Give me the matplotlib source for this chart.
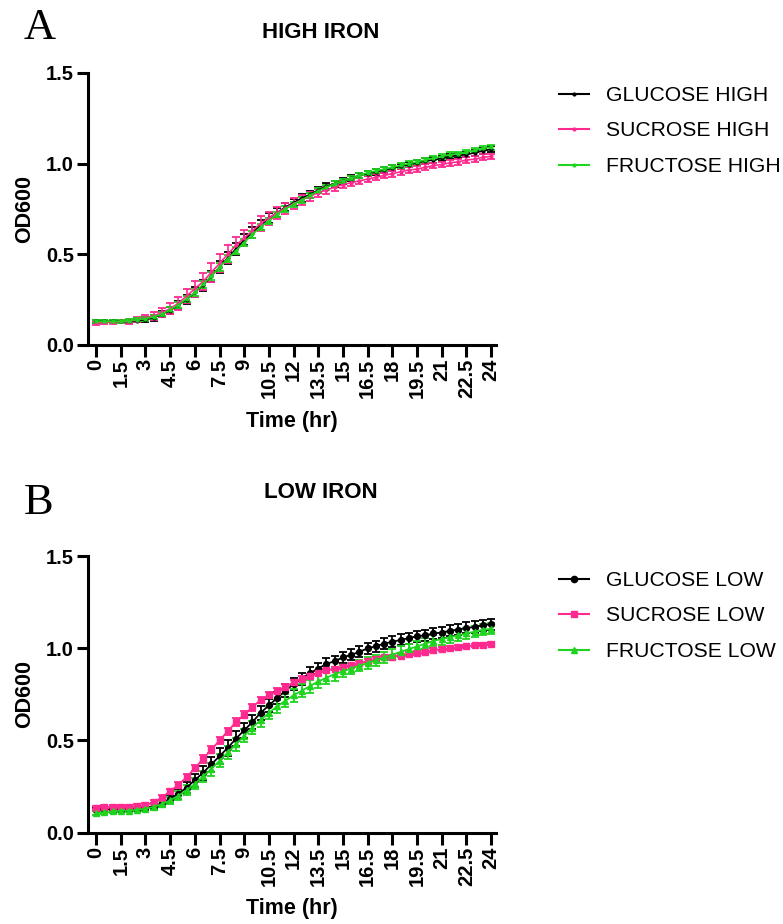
import numpy as np
import matplotlib
matplotlib.use("Agg")
import matplotlib.pyplot as plt
from matplotlib.lines import Line2D

plt.rcParams['font.family'] = ['Liberation Sans', 'DejaVu Sans']

time_hr = [i * 0.5 for i in range(49)]
xtick_vals = [0, 1.5, 3, 4.5, 6, 7.5, 9, 10.5, 12, 13.5, 15, 16.5, 18, 19.5, 21, 22.5, 24]
xtick_labels = ["0", "1.5", "3", "4.5", "6", "7.5", "9", "10.5", "12", "13.5", "15",
                "16.5", "18", "19.5", "21", "22.5", "24"]
ytick_vals = [0.0, 0.5, 1.0, 1.5]
ytick_labels = ["0.0", "0.5", "1.0", "1.5"]

# ---- HIGH IRON ----
glucose_high = [0.13, 0.13, 0.13, 0.13, 0.13, 0.135, 0.14, 0.15, 0.17, 0.19, 0.22, 0.25, 0.29,
                0.33, 0.38, 0.43, 0.48, 0.53, 0.58, 0.62, 0.66, 0.70, 0.73, 0.76, 0.785, 0.81,
                0.83, 0.855, 0.875, 0.89, 0.905, 0.92, 0.935, 0.945, 0.955, 0.965, 0.975, 0.985,
                0.995, 1.005, 1.015, 1.02, 1.03, 1.04, 1.045, 1.05, 1.06, 1.07, 1.08]
sucrose_high = [0.12, 0.125, 0.125, 0.13, 0.13, 0.14, 0.15, 0.16, 0.18, 0.20, 0.23, 0.27, 0.31,
                0.35, 0.40, 0.45, 0.50, 0.55, 0.59, 0.63, 0.67, 0.70, 0.73, 0.755, 0.78, 0.80,
                0.82, 0.84, 0.855, 0.87, 0.885, 0.895, 0.905, 0.915, 0.925, 0.935, 0.945, 0.955,
                0.965, 0.97, 0.98, 0.99, 0.995, 1.005, 1.01, 1.02, 1.025, 1.035, 1.04]
fructose_high = [0.13, 0.13, 0.13, 0.13, 0.135, 0.14, 0.145, 0.155, 0.17, 0.195, 0.22, 0.255, 0.29,
                 0.335, 0.38, 0.43, 0.475, 0.52, 0.565, 0.61, 0.65, 0.685, 0.72, 0.75, 0.775, 0.80,
                 0.825, 0.85, 0.87, 0.89, 0.905, 0.92, 0.935, 0.95, 0.96, 0.97, 0.98, 0.99,
                 1.0, 1.01, 1.02, 1.03, 1.04, 1.05, 1.055, 1.065, 1.075, 1.085, 1.09]
glucose_high_err = [0.01, 0.01, 0.01, 0.01, 0.01, 0.01, 0.012, 0.015, 0.018, 0.02, 0.022, 0.025, 0.028,
                    0.03, 0.03, 0.032, 0.032, 0.032, 0.03, 0.03, 0.028, 0.026, 0.024, 0.022, 0.02, 0.02,
                    0.018, 0.018, 0.016, 0.016, 0.015, 0.015, 0.015, 0.015, 0.015, 0.015, 0.015, 0.015,
                    0.015, 0.015, 0.015, 0.015, 0.015, 0.015, 0.015, 0.015, 0.015, 0.015, 0.015]
sucrose_high_err = [0.01, 0.01, 0.01, 0.01, 0.012, 0.014, 0.016, 0.02, 0.025, 0.03, 0.035, 0.04, 0.045,
                    0.048, 0.05, 0.05, 0.05, 0.048, 0.045, 0.042, 0.04, 0.036, 0.033, 0.03, 0.028, 0.026,
                    0.024, 0.022, 0.02, 0.02, 0.018, 0.018, 0.017, 0.017, 0.016, 0.016, 0.016, 0.016,
                    0.016, 0.016, 0.016, 0.016, 0.016, 0.016, 0.016, 0.016, 0.016, 0.016, 0.016]
fructose_high_err = [0.008, 0.008, 0.008, 0.008, 0.008, 0.008, 0.01, 0.01, 0.012, 0.014, 0.015, 0.016, 0.018,
                     0.02, 0.02, 0.02, 0.02, 0.02, 0.02, 0.02, 0.018, 0.018, 0.016, 0.016, 0.015, 0.015,
                     0.014, 0.014, 0.013, 0.013, 0.012, 0.012, 0.012, 0.012, 0.012, 0.012, 0.012, 0.012,
                     0.012, 0.012, 0.012, 0.012, 0.012, 0.012, 0.012, 0.012, 0.012, 0.012, 0.012]

# ---- LOW IRON ----
glucose_low = [0.125, 0.128, 0.125, 0.125, 0.127, 0.13, 0.135, 0.145, 0.16, 0.185, 0.21, 0.245, 0.285,
               0.325, 0.37, 0.415, 0.46, 0.51, 0.555, 0.60, 0.65, 0.69, 0.73, 0.77, 0.805, 0.835,
               0.865, 0.89, 0.915, 0.93, 0.95, 0.965, 0.98, 1.0, 1.01, 1.025, 1.035, 1.045,
               1.055, 1.065, 1.07, 1.08, 1.085, 1.095, 1.10, 1.11, 1.115, 1.125, 1.13]
sucrose_low = [0.135, 0.14, 0.14, 0.14, 0.14, 0.145, 0.15, 0.165, 0.19, 0.225, 0.26, 0.30, 0.35,
               0.40, 0.45, 0.50, 0.55, 0.60, 0.64, 0.68, 0.72, 0.745, 0.77, 0.79, 0.815, 0.835,
               0.85, 0.865, 0.88, 0.89, 0.90, 0.91, 0.92, 0.93, 0.94, 0.95, 0.955, 0.96,
               0.97, 0.975, 0.98, 0.99, 0.995, 1.0, 1.005, 1.01, 1.015, 1.02, 1.025]
fructose_low = [0.105, 0.11, 0.115, 0.12, 0.12, 0.125, 0.13, 0.14, 0.155, 0.175, 0.20, 0.23, 0.265,
                0.305, 0.345, 0.39, 0.435, 0.48, 0.525, 0.57, 0.61, 0.65, 0.685, 0.715, 0.745, 0.77,
                0.795, 0.82, 0.84, 0.86, 0.875, 0.89, 0.905, 0.92, 0.935, 0.95, 0.965, 0.98,
                0.995, 1.01, 1.025, 1.04, 1.05, 1.06, 1.07, 1.08, 1.09, 1.10, 1.105]
glucose_low_err = [0.01, 0.01, 0.01, 0.01, 0.01, 0.01, 0.012, 0.015, 0.018, 0.022, 0.026, 0.03, 0.035,
                   0.038, 0.04, 0.042, 0.042, 0.042, 0.04, 0.04, 0.038, 0.036, 0.035, 0.034, 0.033, 0.032,
                   0.031, 0.03, 0.03, 0.03, 0.03, 0.03, 0.03, 0.03, 0.03, 0.03, 0.03, 0.03,
                   0.03, 0.03, 0.03, 0.03, 0.03, 0.03, 0.03, 0.03, 0.03, 0.03, 0.03]
sucrose_low_err = [0.008, 0.008, 0.008, 0.008, 0.008, 0.008, 0.01, 0.01, 0.012, 0.014, 0.015, 0.016, 0.018,
                   0.02, 0.02, 0.02, 0.02, 0.02, 0.02, 0.018, 0.018, 0.016, 0.015, 0.014, 0.013, 0.012,
                   0.012, 0.011, 0.01, 0.01, 0.01, 0.01, 0.01, 0.01, 0.01, 0.01, 0.01, 0.01,
                   0.01, 0.01, 0.01, 0.01, 0.01, 0.01, 0.01, 0.01, 0.01, 0.01, 0.01]
fructose_low_err = [0.01, 0.01, 0.01, 0.01, 0.01, 0.01, 0.012, 0.015, 0.018, 0.02, 0.024, 0.028, 0.03,
                    0.032, 0.035, 0.035, 0.035, 0.035, 0.035, 0.035, 0.035, 0.035, 0.035, 0.035, 0.035, 0.035,
                    0.035, 0.035, 0.035, 0.035, 0.033, 0.032, 0.03, 0.03, 0.03, 0.03, 0.03, 0.03,
                    0.03, 0.03, 0.03, 0.03, 0.03, 0.03, 0.03, 0.03, 0.03, 0.03, 0.03]

BLACK = "#000000"
PINK = "#ff2a8f"
GREEN = "#1ed41e"

W, H = 783, 924
fig = plt.figure(figsize=(W / 100, H / 100), dpi=100)


def px_axes(left, top, right, bottom):
    return fig.add_axes([left / W, 1 - bottom / H, (right - left) / W, (bottom - top) / H])


def style_axes(ax):
    for s in ("top", "right"):
        ax.spines[s].set_visible(False)
    for s in ("left", "bottom"):
        ax.spines[s].set_linewidth(2.2)
    ax.set_ylim(0, 1.5)
    ax.set_xlim(-0.49, 24.3)
    ax.set_xticks(xtick_vals)
    ax.set_xticklabels(xtick_labels, rotation=90, fontsize=14.5, fontweight="bold")
    ax.set_yticks(ytick_vals)
    ax.set_yticklabels(ytick_labels, fontsize=14.5, fontweight="bold")
    ax.tick_params(axis="x", width=2.2, length=8.5, pad=1.5)
    ax.tick_params(axis="y", width=2.2, length=8, pad=2)
    ax.set_ylabel("OD600", fontsize=15.5, fontweight="bold", labelpad=8)
    ax.set_xlabel("Time (hr)", fontsize=15.5, fontweight="bold", labelpad=9)


def make_legend(ax, entries, top_px, ms):
    handles = [Line2D([], [], color=c, marker=m, ms=ms, lw=1.5) for c, m, _ in entries]
    labels = [lab for _, _, lab in entries]
    ax.legend(handles, labels, loc="upper left", bbox_to_anchor=(540 / W, 1 - top_px / H),
              bbox_transform=fig.transFigure, frameon=False, fontsize=15.2,
              handlelength=1.4, handletextpad=0.85, labelspacing=0.78)


# Top panel
ax1 = px_axes(88, 73, 496, 345)
style_axes(ax1)
for vals, errs, col in [(glucose_high, glucose_high_err, BLACK),
                        (sucrose_high, sucrose_high_err, PINK),
                        (fructose_high, fructose_high_err, GREEN)]:
    ax1.errorbar(time_hr, vals, yerr=errs, color=col, lw=1.2, marker="o", ms=2,
                 elinewidth=1.2, capsize=2.8, capthick=1.3)
make_legend(ax1, [(BLACK, "o", "GLUCOSE HIGH"), (PINK, "o", "SUCROSE HIGH"),
                  (GREEN, "o", "FRUCTOSE HIGH")], 67, 2)

# Bottom panel
ax2 = px_axes(88, 556, 496, 832.7)
style_axes(ax2)
for vals, errs, col, mk in [(glucose_low, glucose_low_err, BLACK, "o"),
                            (sucrose_low, sucrose_low_err, PINK, "s"),
                            (fructose_low, fructose_low_err, GREEN, "^")]:
    ax2.errorbar(time_hr, vals, yerr=errs, color=col, lw=1.3, marker=mk, ms=4.2,
                 elinewidth=1.3, capsize=2.8, capthick=1.3)
make_legend(ax2, [(BLACK, "o", "GLUCOSE LOW"), (PINK, "s", "SUCROSE LOW"),
                  (GREEN, "^", "FRUCTOSE LOW")], 552, 4.5)

# Titles and panel letters
fig.text(321 / W, 1 - 33 / H, "HIGH IRON", ha="center", va="center", fontsize=16, fontweight="bold")
fig.text(321 / W, 1 - 493 / H, "LOW IRON", ha="center", va="center", fontsize=16, fontweight="bold")
fig.text(24 / W, 1 - 28 / H, "A", ha="left", va="center", fontsize=32, family=["Liberation Serif", "DejaVu Serif"])
fig.text(24 / W, 1 - 503 / H, "B", ha="left", va="center", fontsize=32, family=["Liberation Serif", "DejaVu Serif"])

fig.savefig("out.png", dpi=100)
